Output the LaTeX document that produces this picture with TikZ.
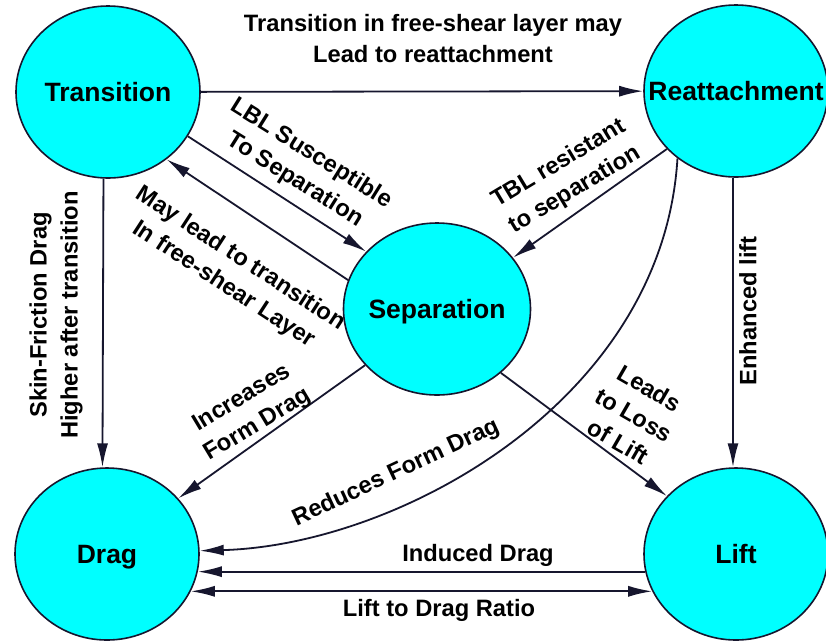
\documentclass[tikz,border=0pt]{standalone}
\usepackage{fontspec}
\setmainfont{Liberation Sans}
\usepackage{tikz}
\usetikzlibrary{arrows.meta,shapes.geometric}
\definecolor{ink}{HTML}{16162E}
\definecolor{aqua}{HTML}{00FFFF}

\begin{document}
\begin{tikzpicture}[
  x=1pt,y=-1pt,
  phase/.style={ellipse,draw=ink,fill=aqua,line width=1.6pt,minimum width=184pt,minimum height=172pt,inner xsep=-30pt,inner ysep=0pt,text depth=0pt,font=\fontsize{26.5}{30}\selectfont\bfseries},
  note/.style={align=center,inner sep=0pt,font=\fontsize{23.7}{31}\selectfont\bfseries},
  flow/.style={-{Latex[length=24pt,width=11pt]},line width=1.8pt,ink}
]
  \path[use as bounding box,fill=white] (0,0) rectangle (826,641);

  % Boundary-layer states sit on the corners, separation in the middle.
  \node[phase] (trans) at (108,92) {Transition};
  \node[phase] (reatt) at (736,91) {Reattachment};
  \node[phase,minimum width=187pt] (sep) at (437,309) {Separation};
  \node[phase] (drag) at (107,554) {Drag};
  \node[phase] (lift) at (736,554) {Lift};

  % Links between the states.
  \draw[flow] (trans) -- (reatt);
  \draw[flow] (trans.-29.5) -- (sep.141);
  \draw[flow] (sep.162) -- (trans.-49);
  \draw[flow] (reatt.-140) -- (sep.34);
  \draw[flow] (reatt.-131) .. controls (663,400) and (400,545) .. (drag.2);
  \draw[flow] (trans.-93) -- (drag.93);
  \draw[flow] (reatt.-92) -- (lift.92);
  \draw[flow] (sep.-142) -- (drag.38);
  \draw[flow] (sep.-45) -- (lift.140);
  \draw[flow] (lift.191) -- (drag.-11);
  \draw[flow,{Latex[length=24pt,width=11pt]}-{Latex[length=24pt,width=11pt]}] (drag.-24) -- (lift.204);

  % Labels sit beside their links.
  \node[note] (lreatt) at (433,39) {Transition in free-shear layer may\\Lead to reattachment};
  \node[note,rotate=-32] (lsus) at (303,167) {LBL Susceptible\\To Separation};
  \node[note,rotate=-33] (ltrans) at (232,272) {May lead to transition\\In free-shear Layer};
  \node[note,rotate=31] (lres) at (567,177) {TBL resistant\\to separation};
  \node[note,rotate=90] (lskin) at (56,315) {Skin-Friction Drag\\Higher after transition};
  \node[note,rotate=90] (lenh) at (748,311) {Enhanced lift};
  \node[note,rotate=31] (lform) at (250,412) {Increases\\Form Drag};
  \node[note,rotate=-30] (lloss) at (634,415) {Leads\\to Loss\\of Lift};
  \node[note,rotate=25] (lred) at (396,473) {Reduces Form Drag};
  \node[note] (lind) at (478,555) {Induced Drag};
  \node[note] (lratio) at (439,610) {Lift to Drag Ratio};
\end{tikzpicture}
\end{document}
